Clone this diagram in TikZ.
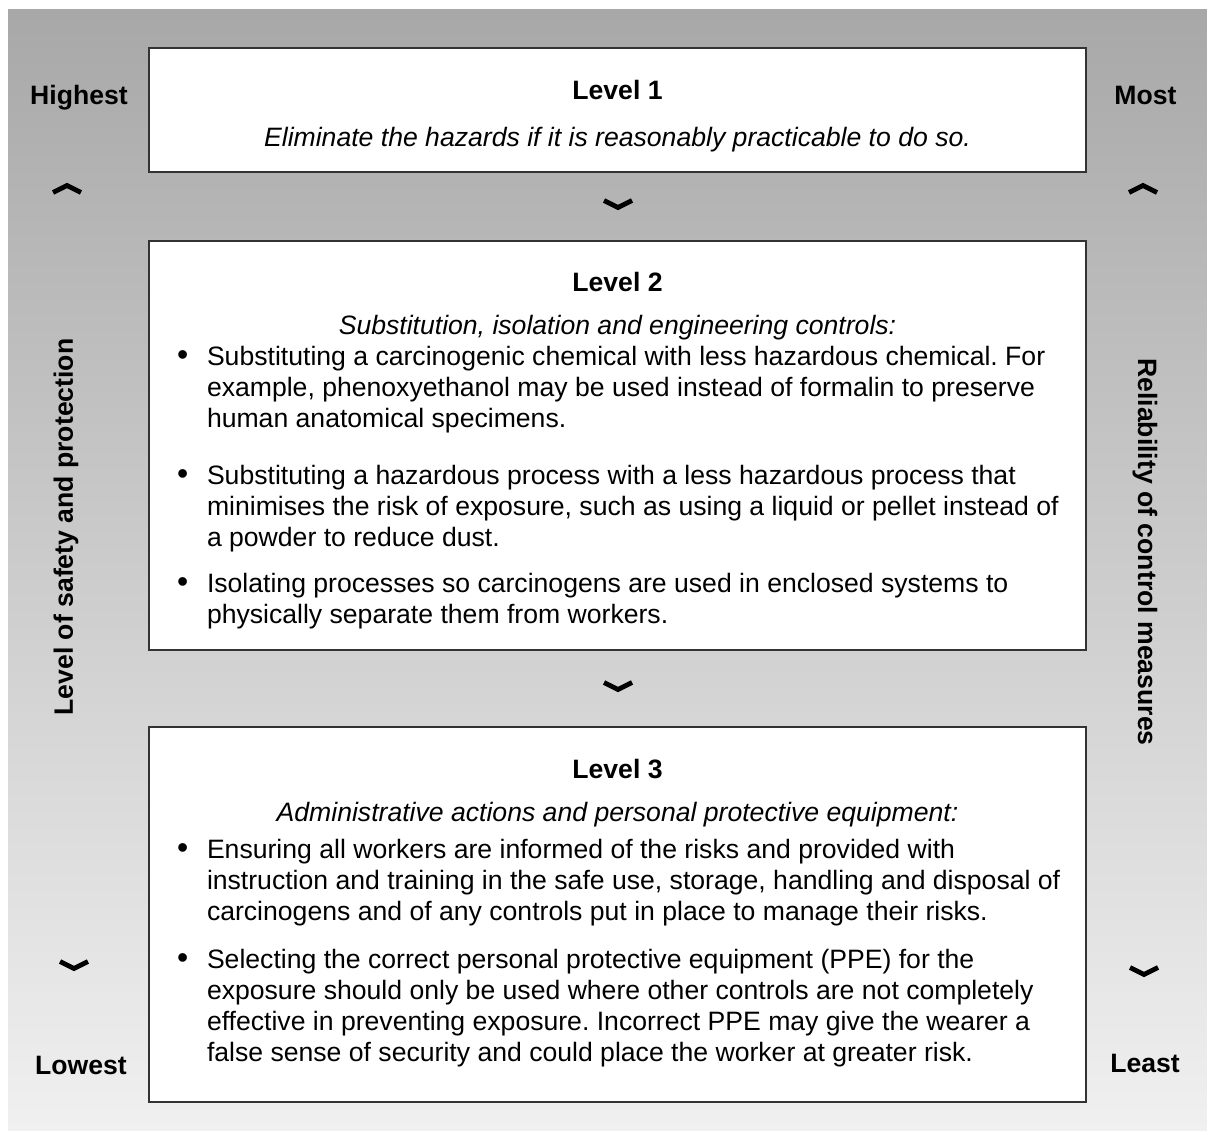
\documentclass[tikz,border=0pt]{standalone}
\usepackage{fontspec}
\setmainfont{Liberation Sans}
\frenchspacing
\definecolor{bgtop}{HTML}{A8A8A8}
\definecolor{bgbot}{HTML}{F0F0F0}
\definecolor{boxline}{HTML}{333333}
\newcommand\bulpar[1]{\makebox[30pt][l]{\scalebox{1.2}{•}}\begin{tabular}[t]{@{}l@{}}#1\end{tabular}}
\begin{document}
\begin{tikzpicture}[x=1pt,y=-1pt,
  every node/.style={inner sep=0pt, outer sep=0pt},
  txt/.style={font=\fontsize{26.6}{31}\selectfont},
  bold/.style={font=\fontsize{26.6}{31}\selectfont\bfseries},
  ital/.style={font=\fontsize{26.6}{31}\selectfont\itshape},
  levelbox/.style={draw=boxline, line width=1.5pt, fill=white, anchor=north west, minimum width=937pt},
  chev/.style={line width=4.8pt, line join=miter, line cap=butt}]
\useasboundingbox (0,0) rectangle (1207,1131);
\shade[top color=bgtop, bottom color=bgbot] (8,10) rectangle (1207,1131);
% boxes
\node[levelbox, minimum height=124pt] (b1) at (149,48) {};
\node[levelbox, minimum height=409pt] (b2) at (149,241) {};
\node[levelbox, minimum height=375pt] (b3) at (149,727) {};
% level 1
\node[bold, anchor=base] (t1) at (617.5,100) {Level 1};
\node[ital, anchor=base] (i1) at (617.5,147) {Eliminate the hazards if it is reasonably practicable to do so.};
% level 2
\node[bold, anchor=base] (t2) at (617.5,292) {Level 2};
\node[ital, anchor=base] (i2) at (617.5,335) {Substitution, isolation and engineering controls:};
\node[txt, anchor=base west] (p21) at (177,366) {\bulpar{Substituting a carcinogenic chemical with less hazardous chemical. For\\example, phenoxyethanol may be used instead of formalin to preserve\\human anatomical specimens.}};
\node[txt, anchor=base west] (p22) at (177,484) {\bulpar{Substituting a hazardous process with a less hazardous process that\\minimises the risk of exposure, such as using a liquid or pellet instead of\\a powder to reduce dust.}};
\node[txt, anchor=base west] (p23) at (177,592) {\bulpar{Isolating processes so carcinogens are used in enclosed systems to\\physically separate them from workers.}};
% level 3
\node[bold, anchor=base] (t3) at (617.5,778) {Level 3};
\node[ital, anchor=base] (i3) at (617.5,821) {Administrative actions and personal protective equipment:};
\node[txt, anchor=base west] (p31) at (177,858) {\bulpar{Ensuring all workers are informed of the risks and provided with\\instruction and training in the safe use, storage, handling and disposal of\\carcinogens and of any controls put in place to manage their risks.}};
\node[txt, anchor=base west] (p32) at (177,968) {\bulpar{Selecting the correct personal protective equipment (PPE) for the\\exposure should only be used where other controls are not completely\\effective in preventing exposure. Incorrect PPE may give the wearer a\\false sense of security and could place the worker at greater risk.}};
% side labels
\node[bold, anchor=base] (hi) at (79,105) {Highest};
\node[bold, anchor=base] (lo) at (81,1074) {Lowest};
\node[bold, anchor=base] (mo) at (1145.5,105) {Most};
\node[bold, anchor=base] (le) at (1145,1072) {Least};
\node[bold, rotate=90] (ls) at (66,527) {Level of safety and protection};
\node[bold, rotate=-90] (rc) at (1145,552) {Reliability of control measures};
% chevrons
\coordinate (cd1) at (618,204);
\coordinate (cd2) at (618,686);
\coordinate (cul) at (67,189);
\coordinate (cur) at (1143,189);
\coordinate (cdl) at (74,965);
\coordinate (cdr) at (1144,971);
\foreach \c in {cd1,cd2,cdl,cdr}{\draw[chev] (\c) ++(-14,-3.5) -- ++(14,7) -- ++(14,-7);}
\foreach \c in {cul,cur}{\draw[chev] (\c) ++(-14,3.5) -- ++(14,-7) -- ++(14,7);}
\end{tikzpicture}
\end{document}
